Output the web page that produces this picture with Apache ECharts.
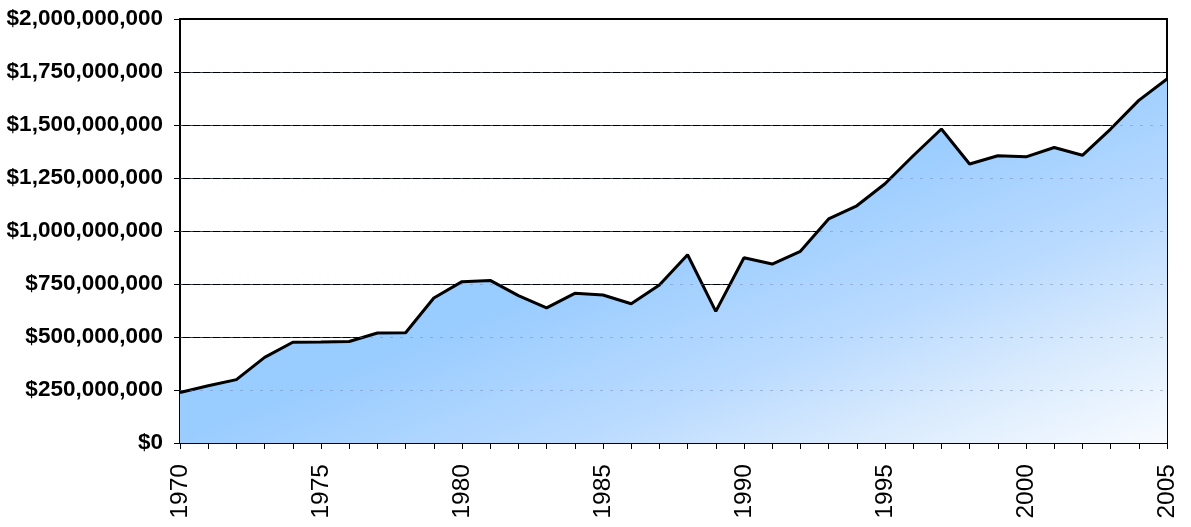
<!DOCTYPE html>
<html>
<head>
<meta charset="utf-8">
<script src="https://cdn.jsdelivr.net/npm/echarts@6/dist/echarts.min.js"></script>
<style>html,body{margin:0;padding:0;background:#fff}#c{width:1191px;height:527px}</style>
</head>
<body>
<div id="c"></div>
<script>
const years = ['1970','1971','1972','1973','1974','1975','1976','1977','1978','1979','1980','1981','1982','1983','1984','1985','1986','1987','1988','1989','1990','1991','1992','1993','1994','1995','1996','1997','1998','1999','2000','2001','2002','2003','2004','2005'];
const values = [238e6,270e6,299e6,404e6,475e6,476e6,479e6,519e6,520e6,684e6,761e6,767e6,695e6,637e6,706e6,698e6,657e6,745e6,888e6,621e6,874e6,844e6,904e6,1057e6,1119e6,1223e6,1355e6,1481e6,1316e6,1355e6,1350e6,1394e6,1357e6,1481e6,1616e6,1717e6];
const yMin = 0, yMax = 2e9, yStep = 2.5e8;
const yTicks = [];
for (let v = yMin + yStep; v < yMax; v += yStep) yTicks.push(v);

const fontFam = 'Liberation Sans, Arial, sans-serif';
const chart = echarts.init(document.getElementById('c'));
chart.setOption({
  animation: false,
  backgroundColor: '#fff',
  grid: {left: 180, right: 24, top: 19, bottom: 84, show: true, borderColor: '#000', borderWidth: 2, containLabel: false},
  xAxis: {
    type: 'category', data: years, boundaryGap: false,
    axisLine: {show: true, lineStyle: {color: '#000', width: 2}},
    axisTick: {show: true, interval: 0, length: 6, lineStyle: {color: '#000', width: 1}},
    axisLabel: {interval: 4, rotate: 90, margin: 21, color: '#000', fontFamily: fontFam, fontSize: 24.5},
    splitLine: {show: false}
  },
  yAxis: {
    type: 'value', min: yMin, max: yMax, interval: yStep,
    axisLine: {show: true, lineStyle: {color: '#000', width: 2}},
    axisTick: {show: true, length: 6, lineStyle: {color: '#000', width: 1}},
    axisLabel: {margin: 17, color: '#000', fontFamily: fontFam, fontWeight: 'bold', fontSize: 22.5,
      formatter: v => '$' + Math.round(v).toLocaleString('en-US')},
    splitLine: {show: true, lineStyle: {color: '#000', width: 1}}
  },
  series: [{
    type: 'line', data: values, symbol: 'none', smooth: false,
    lineStyle: {color: '#000', width: 3},
    areaStyle: {
      opacity: 1,
      color: new echarts.graphic.LinearGradient(174, 437, 314.5, 790.5, [
        {offset: 0, color: '#99CCFF'},
        {offset: 0.41, color: '#BBDBFF'},
        {offset: 0.66, color: '#D8EAFD'},
        {offset: 1, color: '#FAFCFF'}
      ], true)
    },
    markLine: {
      silent: true, symbol: 'none', label: {show: false}, animation: false,
      lineStyle: {color: 'rgba(110,130,170,0.45)', width: 1, type: [3, 7]},
      data: yTicks.map(v => ({yAxis: v}))
    }
  }]
});
</script>
</body>
</html>
